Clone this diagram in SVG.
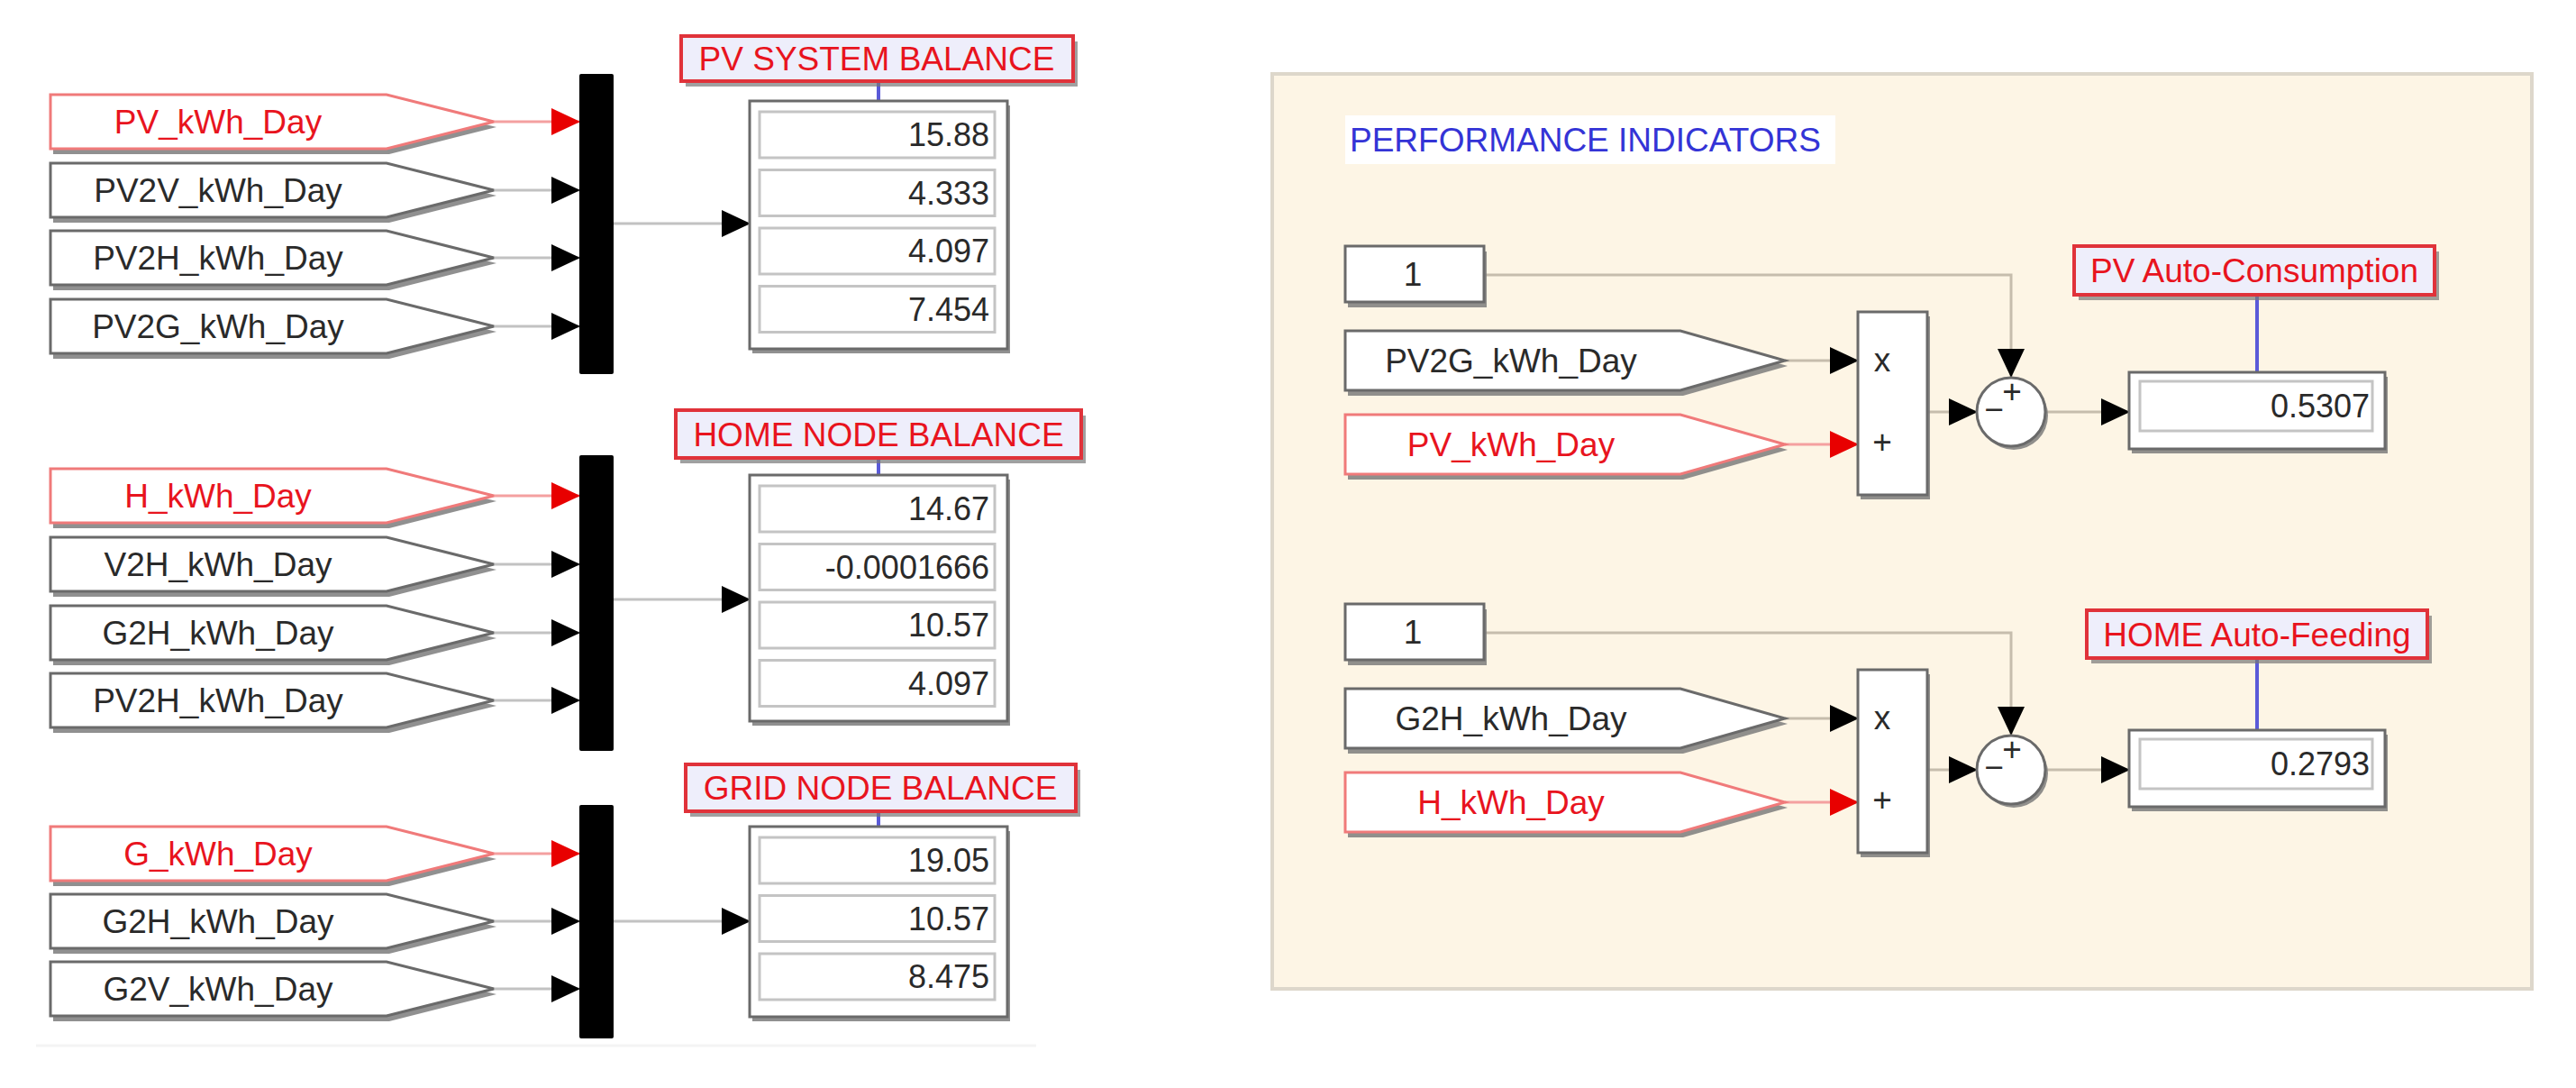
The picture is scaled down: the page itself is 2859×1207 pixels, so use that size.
<svg xmlns="http://www.w3.org/2000/svg" width="2859" height="1207" viewBox="0 0 2859 1207">
<style>
text{font-family:"Liberation Sans",Arial,sans-serif;font-size:37px}
.sh{fill:#7c7c7c;stroke:none;opacity:0.85}
.tag{fill:#fff;stroke:#6a6a6a;stroke-width:3}
.tagr{fill:#fff;stroke:#f07a7a;stroke-width:3}
.tt{fill:#2a2a2a;text-anchor:middle}
.tr{fill:#e8141e;text-anchor:middle}
.bus{fill:#000}
.disp{fill:#fff;stroke:#6a6a6a;stroke-width:3}
.fld{fill:#fff;stroke:#c4c4c4;stroke-width:3}
.val{fill:#2a2a2a;text-anchor:end;font-size:36px}
.lbl{fill:#eeeefb;stroke:#e0323a;stroke-width:4}
.lblsh{fill:#777;opacity:0.7}
.lt{fill:#e8141e;text-anchor:middle}
.ln{fill:none;stroke:#c2c2c2;stroke-width:3}
.lnr{fill:none;stroke:#f4a0a0;stroke-width:3}
.lnp{fill:none;stroke:#c6bdad;stroke-width:3}
.blue{stroke:#5a5ad8;stroke-width:4}
.blk{fill:#fff;stroke:#6a6a6a;stroke-width:3}
</style>
<defs>
<marker id="ab" markerUnits="userSpaceOnUse" markerWidth="32" markerHeight="30" refX="31" refY="15" orient="auto" viewBox="0 0 32 30"><path d="M0,0 L32,15 L0,30 Z" fill="#000"/></marker>
<marker id="ar" markerUnits="userSpaceOnUse" markerWidth="32" markerHeight="30" refX="31" refY="15" orient="auto" viewBox="0 0 32 30"><path d="M0,0 L32,15 L0,30 Z" fill="#e80000"/></marker>
</defs>
<rect width="2859" height="1207" fill="#fff"/>
<line x1="40" y1="1160" x2="1150" y2="1160" stroke="#f4f4f4" stroke-width="3"/>

<!-- Right panel -->
<g id="panel">
<rect x="1412" y="82" width="1398" height="1015" fill="#fdf5e5" stroke="#ddd7cb" stroke-width="4"/>
<rect x="1493" y="128" width="544" height="54" fill="#fff"/>
<text x="1498" y="168" fill="#3434d6">PERFORMANCE INDICATORS</text>
</g>

<!-- Connectors -->
<g id="connectors">
<path class="lnr" d="M548,135 H643" marker-end="url(#ar)"/>
<path class="ln" d="M548,211 H643" marker-end="url(#ab)"/>
<path class="ln" d="M548,286 H643" marker-end="url(#ab)"/>
<path class="ln" d="M548,362 H643" marker-end="url(#ab)"/>
<path class="ln" d="M681,248 H832" marker-end="url(#ab)"/>
<path class="lnr" d="M548,550 H643" marker-end="url(#ar)"/>
<path class="ln" d="M548,626 H643" marker-end="url(#ab)"/>
<path class="ln" d="M548,702 H643" marker-end="url(#ab)"/>
<path class="ln" d="M548,777 H643" marker-end="url(#ab)"/>
<path class="ln" d="M681,665 H832" marker-end="url(#ab)"/>
<path class="lnr" d="M548,947 H643" marker-end="url(#ar)"/>
<path class="ln" d="M548,1022 H643" marker-end="url(#ab)"/>
<path class="ln" d="M548,1097 H643" marker-end="url(#ab)"/>
<path class="ln" d="M681,1022 H832" marker-end="url(#ab)"/>
<line class="blue" x1="975" y1="90" x2="975" y2="112"/>
<line class="blue" x1="975" y1="508" x2="975" y2="527"/>
<line class="blue" x1="975" y1="900" x2="975" y2="917"/>
<path class="lnp" d="M1647,305 H2232 V418" marker-end="url(#ab)"/>
<path class="lnp" d="M1981,400 H2062" marker-end="url(#ab)"/>
<path class="lnr" d="M1981,493 H2062" marker-end="url(#ar)"/>
<path class="lnp" d="M2139,457 H2194" marker-end="url(#ab)"/>
<path class="lnp" d="M2270,457 H2363" marker-end="url(#ab)"/>
<line class="blue" x1="2505" y1="327" x2="2505" y2="413"/>
<path class="lnp" d="M1647,702 H2232 V815" marker-end="url(#ab)"/>
<path class="lnp" d="M1981,797 H2062" marker-end="url(#ab)"/>
<path class="lnr" d="M1981,890 H2062" marker-end="url(#ar)"/>
<path class="lnp" d="M2139,854 H2194" marker-end="url(#ab)"/>
<path class="lnp" d="M2270,854 H2363" marker-end="url(#ab)"/>
<line class="blue" x1="2505" y1="730" x2="2505" y2="810"/>
</g>

<!-- Section 1 -->
<g id="tag-pv">
<path class="sh" transform="translate(3,6)" d="M56,105 H429 L548,135 L429,165 H56 Z"/>
<path class="tagr" d="M56,105 H429 L548,135 L429,165 H56 Z"/>
<text class="tr" x="242" y="148">PV_kWh_Day</text>
</g>
<g id="tag-pv2v">
<path class="sh" transform="translate(3,6)" d="M56,181 H429 L548,211 L429,241 H56 Z"/>
<path class="tag" d="M56,181 H429 L548,211 L429,241 H56 Z"/>
<text class="tt" x="242" y="224">PV2V_kWh_Day</text>
</g>
<g id="tag-pv2h">
<path class="sh" transform="translate(3,6)" d="M56,256 H429 L548,286 L429,316 H56 Z"/>
<path class="tag" d="M56,256 H429 L548,286 L429,316 H56 Z"/>
<text class="tt" x="242" y="299">PV2H_kWh_Day</text>
</g>
<g id="tag-pv2g">
<path class="sh" transform="translate(3,6)" d="M56,332 H429 L548,362 L429,392 H56 Z"/>
<path class="tag" d="M56,332 H429 L548,362 L429,392 H56 Z"/>
<text class="tt" x="242" y="375">PV2G_kWh_Day</text>
</g>
<g id="bus1"><rect class="bus" x="643" y="82" width="38" height="333" rx="2"/></g>
<g id="label-pv">
<rect class="lblsh" x="761" y="46" width="435" height="50"/>
<rect class="lbl" x="756" y="40" width="435" height="50"/>
<text class="lt" x="973" y="78">PV SYSTEM BALANCE</text>
</g>
<g id="disp-pv">
<rect class="sh" x="835" y="117" width="286" height="275"/>
<rect class="disp" x="832" y="112" width="286" height="275"/>
<rect class="fld" x="843" y="124" width="261" height="51"/>
<rect class="fld" x="843" y="188.5" width="261" height="51"/>
<rect class="fld" x="843" y="253" width="261" height="51"/>
<rect class="fld" x="843" y="317.5" width="261" height="51"/>
<text class="val" x="1098" y="162">15.88</text>
<text class="val" x="1098" y="226.5">4.333</text>
<text class="val" x="1098" y="291">4.097</text>
<text class="val" x="1098" y="355.5">7.454</text>
</g>

<!-- Section 2 -->
<g id="tag-h">
<path class="sh" transform="translate(3,6)" d="M56,520 H429 L548,550 L429,580 H56 Z"/>
<path class="tagr" d="M56,520 H429 L548,550 L429,580 H56 Z"/>
<text class="tr" x="242" y="563">H_kWh_Day</text>
</g>
<g id="tag-v2h">
<path class="sh" transform="translate(3,6)" d="M56,596 H429 L548,626 L429,656 H56 Z"/>
<path class="tag" d="M56,596 H429 L548,626 L429,656 H56 Z"/>
<text class="tt" x="242" y="639">V2H_kWh_Day</text>
</g>
<g id="tag-g2h-a">
<path class="sh" transform="translate(3,6)" d="M56,672 H429 L548,702 L429,732 H56 Z"/>
<path class="tag" d="M56,672 H429 L548,702 L429,732 H56 Z"/>
<text class="tt" x="242" y="715">G2H_kWh_Day</text>
</g>
<g id="tag-pv2h-b">
<path class="sh" transform="translate(3,6)" d="M56,747 H429 L548,777 L429,807 H56 Z"/>
<path class="tag" d="M56,747 H429 L548,777 L429,807 H56 Z"/>
<text class="tt" x="242" y="790">PV2H_kWh_Day</text>
</g>
<g id="bus2"><rect class="bus" x="643" y="505" width="38" height="328" rx="2"/></g>
<g id="label-home">
<rect class="lblsh" x="755" y="461" width="450" height="53"/>
<rect class="lbl" x="750" y="455" width="450" height="53"/>
<text class="lt" x="975" y="495">HOME NODE BALANCE</text>
</g>
<g id="disp-home">
<rect class="sh" x="835" y="532" width="286" height="273"/>
<rect class="disp" x="832" y="527" width="286" height="273"/>
<rect class="fld" x="843" y="539" width="261" height="51"/>
<rect class="fld" x="843" y="603.5" width="261" height="51"/>
<rect class="fld" x="843" y="668" width="261" height="51"/>
<rect class="fld" x="843" y="732.5" width="261" height="51"/>
<text class="val" x="1098" y="577">14.67</text>
<text class="val" x="1098" y="641.5">-0.0001666</text>
<text class="val" x="1098" y="706">10.57</text>
<text class="val" x="1098" y="770.5">4.097</text>
</g>

<!-- Section 3 -->
<g id="tag-g">
<path class="sh" transform="translate(3,6)" d="M56,917 H429 L548,947 L429,977 H56 Z"/>
<path class="tagr" d="M56,917 H429 L548,947 L429,977 H56 Z"/>
<text class="tr" x="242" y="960">G_kWh_Day</text>
</g>
<g id="tag-g2h-b">
<path class="sh" transform="translate(3,6)" d="M56,992 H429 L548,1022 L429,1052 H56 Z"/>
<path class="tag" d="M56,992 H429 L548,1022 L429,1052 H56 Z"/>
<text class="tt" x="242" y="1035">G2H_kWh_Day</text>
</g>
<g id="tag-g2v">
<path class="sh" transform="translate(3,6)" d="M56,1067 H429 L548,1097 L429,1127 H56 Z"/>
<path class="tag" d="M56,1067 H429 L548,1097 L429,1127 H56 Z"/>
<text class="tt" x="242" y="1110">G2V_kWh_Day</text>
</g>
<g id="bus3"><rect class="bus" x="643" y="893" width="38" height="259" rx="2"/></g>
<g id="label-grid">
<rect class="lblsh" x="766" y="854" width="433" height="52"/>
<rect class="lbl" x="761" y="848" width="433" height="52"/>
<text class="lt" x="977" y="887">GRID NODE BALANCE</text>
</g>
<g id="disp-grid">
<rect class="sh" x="835" y="922" width="286" height="211"/>
<rect class="disp" x="832" y="917" width="286" height="211"/>
<rect class="fld" x="843" y="929" width="261" height="51"/>
<rect class="fld" x="843" y="993.5" width="261" height="51"/>
<rect class="fld" x="843" y="1058" width="261" height="51"/>
<text class="val" x="1098" y="967">19.05</text>
<text class="val" x="1098" y="1031.5">10.57</text>
<text class="val" x="1098" y="1096">8.475</text>
</g>

<!-- Upper indicator -->
<g id="const-1a">
<rect class="sh" x="1496" y="279" width="154" height="62"/>
<rect class="blk" x="1493" y="273" width="154" height="62"/>
<text class="tt" x="1568" y="317">1</text>
</g>
<g id="tag-pv2g-r">
<path class="sh" transform="translate(3,6)" d="M1493,367 H1865 L1981,400 L1865,433 H1493 Z"/>
<path class="tag" d="M1493,367 H1865 L1981,400 L1865,433 H1493 Z"/>
<text class="tt" x="1677" y="413">PV2G_kWh_Day</text>
</g>
<g id="tag-pv-r">
<path class="sh" transform="translate(3,6)" d="M1493,460 H1865 L1981,493 L1865,526 H1493 Z"/>
<path class="tagr" d="M1493,460 H1865 L1981,493 L1865,526 H1493 Z"/>
<text class="tr" x="1677" y="506">PV_kWh_Day</text>
</g>
<g id="prod-a">
<rect class="sh" x="2065" y="351" width="77" height="203"/>
<rect class="blk" x="2062" y="346" width="77" height="203"/>
<text class="tt" x="2089" y="412" font-size="30">x</text>
<text class="tt" x="2089" y="503" font-size="30">+</text>
</g>
<g id="sum-a">
<circle class="sh" cx="2235" cy="461" r="38"/>
<circle class="blk" cx="2232" cy="457" r="38"/>
<text class="tt" x="2233" y="447" font-size="28">+</text>
<text class="tt" x="2213" y="467" font-size="28">−</text>
</g>
<g id="disp-pvac">
<rect class="sh" x="2366" y="418" width="284" height="85"/>
<rect class="disp" x="2363" y="413" width="284" height="85"/>
<rect class="fld" x="2375" y="423" width="258" height="55"/>
<text class="val" x="2630" y="463" font-size="37">0.5307</text>
</g>
<g id="label-pvac">
<rect class="lblsh" x="2307" y="279" width="400" height="54"/>
<rect class="lbl" x="2302" y="273" width="400" height="54"/>
<text class="lt" x="2502" y="313">PV Auto-Consumption</text>
</g>

<!-- Lower indicator -->
<g id="const-1b">
<rect class="sh" x="1496" y="676" width="154" height="62"/>
<rect class="blk" x="1493" y="670" width="154" height="62"/>
<text class="tt" x="1568" y="714">1</text>
</g>
<g id="tag-g2h-r">
<path class="sh" transform="translate(3,6)" d="M1493,764 H1865 L1981,797 L1865,830 H1493 Z"/>
<path class="tag" d="M1493,764 H1865 L1981,797 L1865,830 H1493 Z"/>
<text class="tt" x="1677" y="810">G2H_kWh_Day</text>
</g>
<g id="tag-h-r">
<path class="sh" transform="translate(3,6)" d="M1493,857 H1865 L1981,890 L1865,923 H1493 Z"/>
<path class="tagr" d="M1493,857 H1865 L1981,890 L1865,923 H1493 Z"/>
<text class="tr" x="1677" y="903">H_kWh_Day</text>
</g>
<g id="prod-b">
<rect class="sh" x="2065" y="748" width="77" height="203"/>
<rect class="blk" x="2062" y="743" width="77" height="203"/>
<text class="tt" x="2089" y="809" font-size="30">x</text>
<text class="tt" x="2089" y="900" font-size="30">+</text>
</g>
<g id="sum-b">
<circle class="sh" cx="2235" cy="858" r="38"/>
<circle class="blk" cx="2232" cy="854" r="38"/>
<text class="tt" x="2233" y="844" font-size="28">+</text>
<text class="tt" x="2213" y="864" font-size="28">−</text>
</g>
<g id="disp-homeaf">
<rect class="sh" x="2366" y="815" width="284" height="85"/>
<rect class="disp" x="2363" y="810" width="284" height="85"/>
<rect class="fld" x="2375" y="820" width="258" height="55"/>
<text class="val" x="2630" y="860" font-size="37">0.2793</text>
</g>
<g id="label-homeaf">
<rect class="lblsh" x="2321" y="683" width="378" height="53"/>
<rect class="lbl" x="2316" y="677" width="378" height="53"/>
<text class="lt" x="2505" y="717">HOME Auto-Feeding</text>
</g>
</svg>
